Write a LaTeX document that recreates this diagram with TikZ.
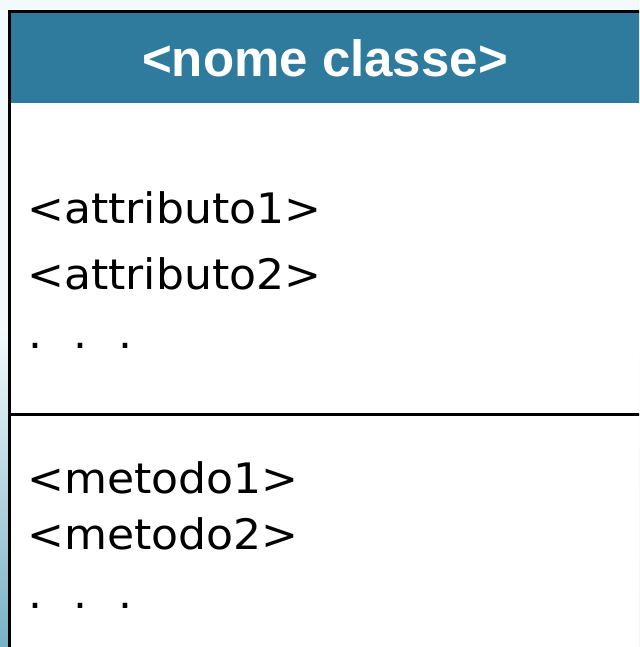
\documentclass[tikz,border=0pt]{standalone}
\usepackage{fontspec}
\setmainfont{DejaVu Sans}
\newfontfamily\bodyfont[FakeStretch=1.05]{DejaVu Sans}
\newfontfamily\headfont{Liberation Sans}
\definecolor{hdr}{HTML}{2E7B9D}
\definecolor{bglight}{HTML}{F3FAFC}
\definecolor{bgdark}{HTML}{78B1C5}
\begin{document}
\begin{tikzpicture}[x=1pt,y=-1pt,
  bodytxt/.style={anchor=base west,inner sep=0pt,font=\bodyfont\fontsize{42}{50}\selectfont},
  headtxt/.style={anchor=base,inner sep=0pt,text=white,font=\headfont\bfseries\fontsize{51}{60}\selectfont}]
\useasboundingbox (0,0) rectangle (639,647);
\clip (0,0) rectangle (639,647);
% background
\fill[bglight] (0,0) rectangle (639,330);
\shade[top color=bglight,bottom color=bgdark] (0,330) rectangle (639,647);
% class box
\fill[white] (9.5,11.8) rectangle (680,700);
\fill[hdr] (9.5,11.8) rectangle (680,103.3);
\draw[line width=3pt] (680,11.8) -- (9.5,11.8) -- (9.5,700);
\draw[line width=3pt] (9.5,414) -- (680,414);
% texts
\node[headtxt] (title) at (325,77) {<nome classe>};
\node[bodytxt] (a1) at (27,223) {<attributo1>};
\node[bodytxt] (a2) at (27,289) {<attributo2>};
\node[bodytxt] (ad) at (28.3,348) {.\hspace{31pt}.\hspace{31pt}.};
\node[bodytxt] (m1) at (27,493) {<metodo1>};
\node[bodytxt] (m2) at (27,549) {<metodo2>};
\node[bodytxt] (md) at (28.3,608) {.\hspace{31pt}.\hspace{31pt}.};
\end{tikzpicture}
\end{document}
